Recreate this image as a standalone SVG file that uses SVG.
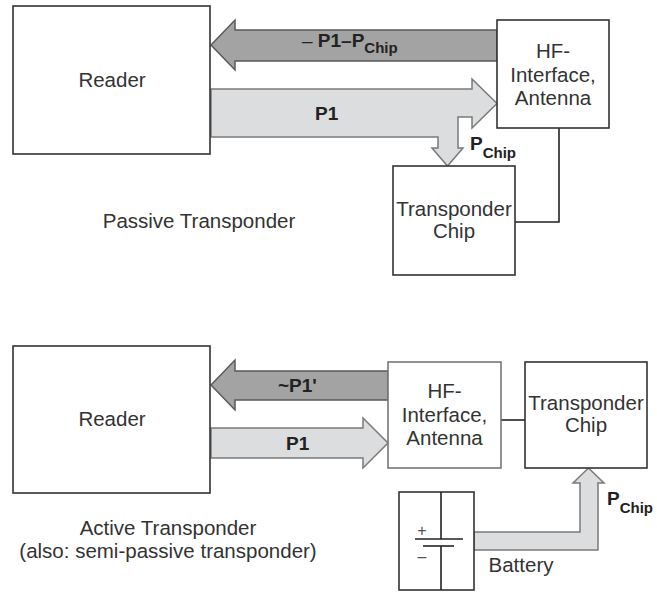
<svg xmlns="http://www.w3.org/2000/svg" width="657" height="592" viewBox="0 0 657 592">
<style>
.box{fill:#fff;stroke:#333;stroke-width:1.6}
.boxl{fill:#fff;stroke:#777;stroke-width:1.6}
.t{font-family:"Liberation Sans",Arial,sans-serif;font-size:20.5px;fill:#333;text-anchor:middle}
.b{font-family:"Liberation Sans",Arial,sans-serif;font-size:19px;font-weight:bold;fill:#222}
.sub{font-size:15px}
.dark{fill:#a3a3a3;stroke:#5a5a5a;stroke-width:1.5;stroke-linejoin:miter}
.light{fill:#dcdddf;stroke:#7a7a7a;stroke-width:1.5;stroke-linejoin:miter}
.wire{fill:none;stroke:#222;stroke-width:1.6}
</style>
<rect width="657" height="592" fill="#fff"/>
<g id="connectors">
  <polygon class="dark" points="211,45 235,20 235,30 497,30 497,61 235,61 235,70"/>
  <polygon class="light" points="211,89 472,89 472,79 497,103.5 472,128 472,117 458,117 458,148 463,148 447.5,166 432,148 438,148 438,137 211,137"/>
  <polyline class="wire" points="559,128 559,222 515,222"/>
  <polygon class="dark" points="211,385 235,360 235,371 388,371 388,400 235,400 235,410"/>
  <polygon class="light" points="211,428 363,428 363,418 388,443 363,468 363,458 211,458"/>
  <line class="wire" x1="501" y1="420" x2="525" y2="420"/>
  <polygon class="light" points="474,532 580,532 580,483 573,483 588.5,468 604,483 598,483 598,550 474,550"/>
</g>
<g id="reader1">
  <rect class="box" x="13" y="6" width="197" height="148"/>
  <text class="t" x="112" y="87">Reader</text>
</g>
<g id="hf1">
  <rect class="box" x="497" y="20" width="112" height="108"/>
  <text class="t" x="553" y="58">HF-</text>
  <text class="t" x="553" y="82">Interface,</text>
  <text class="t" x="553" y="105">Antenna</text>
</g>
<g id="chip1">
  <rect class="box" x="393" y="166" width="122" height="109"/>
  <text class="t" x="454" y="216">Transponder</text>
  <text class="t" x="454" y="238">Chip</text>
</g>
<g id="labels1">
  <text class="b" x="302" y="47"><tspan font-weight="normal">–</tspan> P1–P<tspan class="sub" dy="6">Chip</tspan></text>
  <text class="b" x="315" y="120">P1</text>
  <text class="b" x="470" y="150">P<tspan class="sub" dy="8">Chip</tspan></text>
  <text class="t" x="199" y="228">Passive Transponder</text>
</g>
<g id="reader2">
  <rect class="box" x="13" y="346" width="197" height="147"/>
  <text class="t" x="112" y="426">Reader</text>
</g>
<g id="hf2">
  <rect class="boxl" x="388" y="362" width="113" height="106"/>
  <text class="t" x="444.5" y="398">HF-</text>
  <text class="t" x="444.5" y="422">Interface,</text>
  <text class="t" x="444.5" y="445">Antenna</text>
</g>
<g id="chip2">
  <rect class="box" x="525" y="362" width="122" height="106"/>
  <text class="t" x="586" y="410">Transponder</text>
  <text class="t" x="586" y="432">Chip</text>
</g>
<g id="battery">
  <rect class="box" x="399" y="492" width="75" height="98"/>
  <line class="wire" x1="441" y1="492" x2="441" y2="539"/>
  <line class="wire" x1="441" y1="546" x2="441" y2="590"/>
  <line class="wire" x1="415" y1="539" x2="463" y2="539"/>
  <line class="wire" x1="423" y1="546" x2="454" y2="546"/>
  <text class="t" x="422" y="536" style="font-size:16px;fill:#555">+</text>
  <text class="t" x="422" y="562" style="font-size:16px;fill:#555">–</text>
</g>
<g id="labels2">
  <text class="b" x="278" y="392">~P1'</text>
  <text class="b" x="286" y="450">P1</text>
  <text class="b" x="607" y="505">P<tspan class="sub" dy="8">Chip</tspan></text>
  <text class="t" x="521" y="572">Battery</text>
  <text class="t" x="168" y="535">Active Transponder</text>
  <text class="t" x="168" y="558">(also: semi-passive transponder)</text>
</g>
</svg>
